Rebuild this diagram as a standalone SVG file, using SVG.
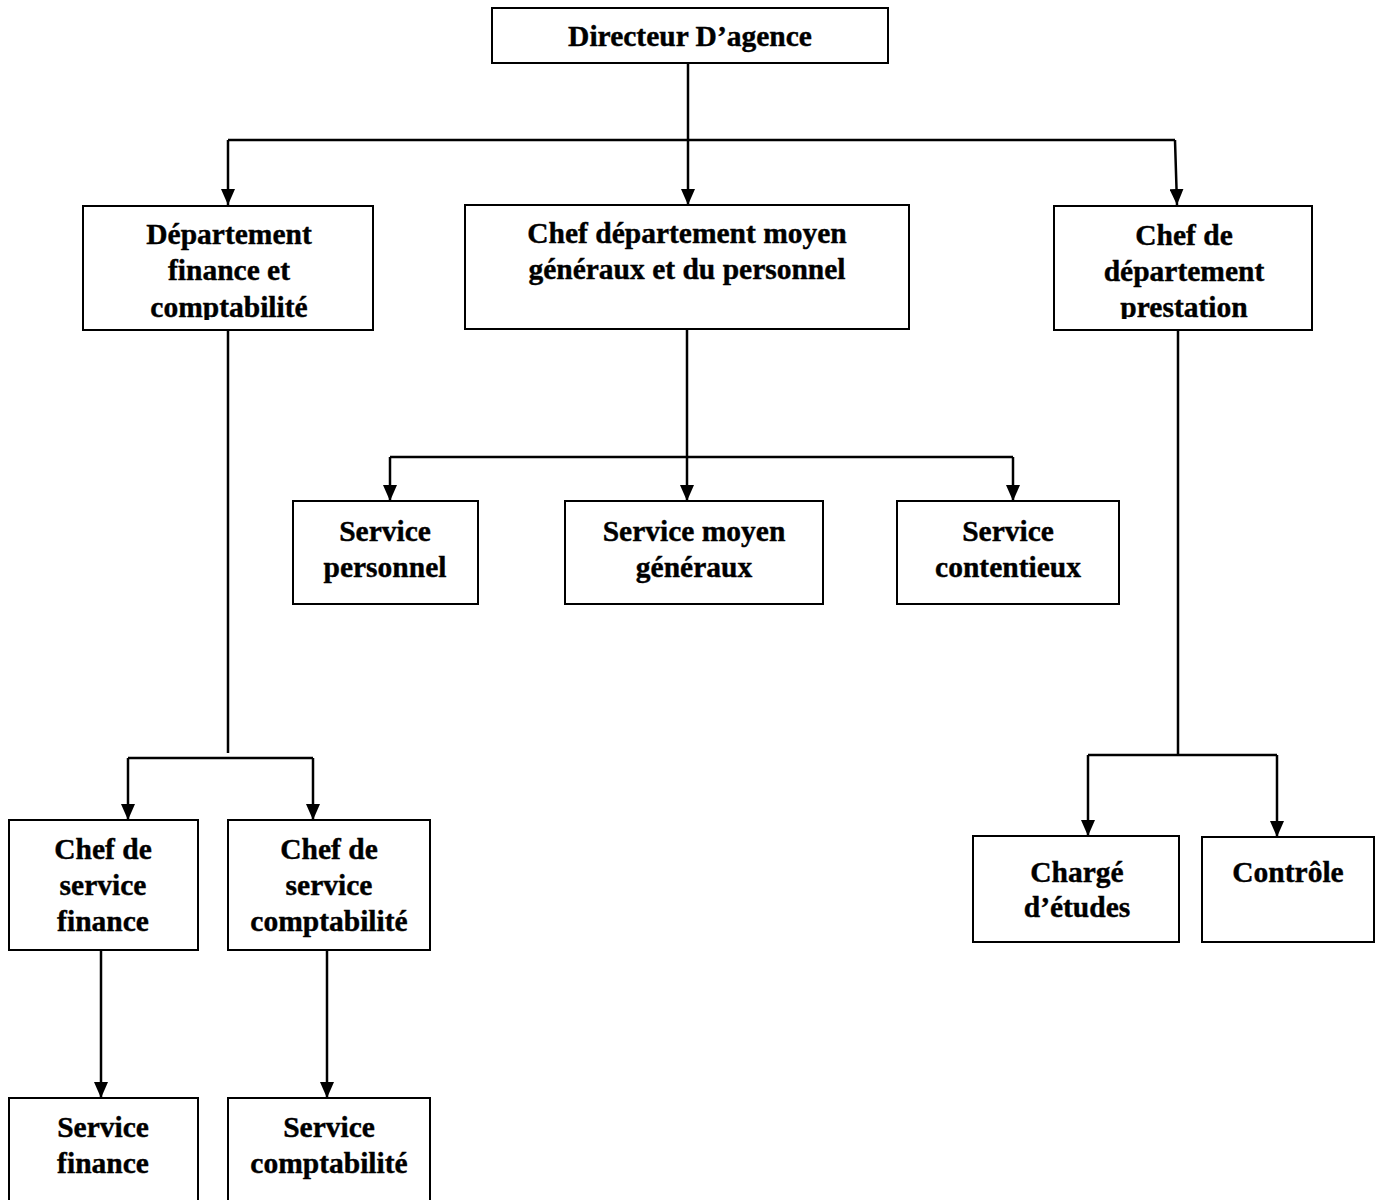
<svg xmlns="http://www.w3.org/2000/svg" width="1383" height="1200" viewBox="0 0 1383 1200">
<style>
.box{fill:#fff;stroke:#000;stroke-width:2}
.t{font-family:"Liberation Serif","Times New Roman",serif;font-weight:bold;font-size:29.5px;fill:#000;stroke:#000;stroke-width:0.4;text-anchor:middle}
.c{fill:none;stroke:#000;stroke-width:2.5}
</style>
<defs>
<marker id="arr" markerUnits="userSpaceOnUse" markerWidth="16" markerHeight="14" refX="16" refY="7" orient="auto">
<path d="M0,0 L16,7 L0,14 z" fill="#000"/>
</marker>
<clipPath id="clipL"><rect x="83" y="206" width="290" height="114"/></clipPath>
<clipPath id="clipR"><rect x="1054" y="206" width="258" height="113"/></clipPath>
</defs>
<rect width="1383" height="1200" fill="#fff"/>
<g id="connectors">
<path class="c" d="M688,63 V205" marker-end="url(#arr)"/>
<path class="c" d="M228,140 H1175"/>
<path class="c" d="M228,140 V205" marker-end="url(#arr)"/>
<path class="c" d="M1175,140 L1177,205" marker-end="url(#arr)"/>
<path class="c" d="M228,330 V753"/>
<path class="c" d="M128,758 H313"/>
<path class="c" d="M128,758 V820" marker-end="url(#arr)"/>
<path class="c" d="M313,758 V820" marker-end="url(#arr)"/>
<path class="c" d="M101,950 V1098" marker-end="url(#arr)"/>
<path class="c" d="M327,950 V1098" marker-end="url(#arr)"/>
<path class="c" d="M687,329 V501" marker-end="url(#arr)"/>
<path class="c" d="M390,457 H1013"/>
<path class="c" d="M390,457 V501" marker-end="url(#arr)"/>
<path class="c" d="M1013,457 V501" marker-end="url(#arr)"/>
<path class="c" d="M1178,330 V755"/>
<path class="c" d="M1088,755 H1277"/>
<path class="c" d="M1088,755 V836" marker-end="url(#arr)"/>
<path class="c" d="M1277,755 V837" marker-end="url(#arr)"/>
</g>
<g id="directeur">
<rect class="box" x="492" y="8" width="396" height="55"/>
<text class="t" x="690" y="46">Directeur D’agence</text>
</g>
<g id="dept-finance">
<rect class="box" x="83" y="206" width="290" height="124"/>
<g clip-path="url(#clipL)">
<text class="t" x="229" y="244">Département</text>
<text class="t" x="229" y="280">finance et</text>
<text class="t" x="229" y="317">comptabilité</text>
</g>
</g>
<g id="dept-moyens">
<rect class="box" x="465" y="205" width="444" height="124"/>
<text class="t" x="687" y="243">Chef département moyen</text>
<text class="t" x="687" y="279">généraux et du personnel</text>
</g>
<g id="dept-prestation">
<rect class="box" x="1054" y="206" width="258" height="124"/>
<g clip-path="url(#clipR)">
<text class="t" x="1184" y="245">Chef de</text>
<text class="t" x="1184" y="281">département</text>
<text class="t" x="1184" y="317">prestation</text>
</g>
</g>
<g id="svc-personnel">
<rect class="box" x="293" y="501" width="185" height="103"/>
<text class="t" x="385" y="541">Service</text>
<text class="t" x="385" y="577">personnel</text>
</g>
<g id="svc-moyen">
<rect class="box" x="565" y="501" width="258" height="103"/>
<text class="t" x="694" y="541">Service moyen</text>
<text class="t" x="694" y="577">généraux</text>
</g>
<g id="svc-contentieux">
<rect class="box" x="897" y="501" width="222" height="103"/>
<text class="t" x="1008" y="541">Service</text>
<text class="t" x="1008" y="577">contentieux</text>
</g>
<g id="chef-finance">
<rect class="box" x="9" y="820" width="189" height="130"/>
<text class="t" x="103" y="859">Chef de</text>
<text class="t" x="103" y="895">service</text>
<text class="t" x="103" y="931">finance</text>
</g>
<g id="chef-compta">
<rect class="box" x="228" y="820" width="202" height="130"/>
<text class="t" x="329" y="859">Chef de</text>
<text class="t" x="329" y="895">service</text>
<text class="t" x="329" y="931">comptabilité</text>
</g>
<g id="charge-etudes">
<rect class="box" x="973" y="836" width="206" height="106"/>
<text class="t" x="1077" y="882">Chargé</text>
<text class="t" x="1077" y="917">d’études</text>
</g>
<g id="controle">
<rect class="box" x="1202" y="837" width="172" height="105"/>
<text class="t" x="1288" y="882">Contrôle</text>
</g>
<g id="svc-finance">
<rect class="box" x="9" y="1098" width="189" height="120"/>
<text class="t" x="103" y="1137">Service</text>
<text class="t" x="103" y="1173">finance</text>
</g>
<g id="svc-compta">
<rect class="box" x="228" y="1098" width="202" height="120"/>
<text class="t" x="329" y="1137">Service</text>
<text class="t" x="329" y="1173">comptabilité</text>
</g>
</svg>
